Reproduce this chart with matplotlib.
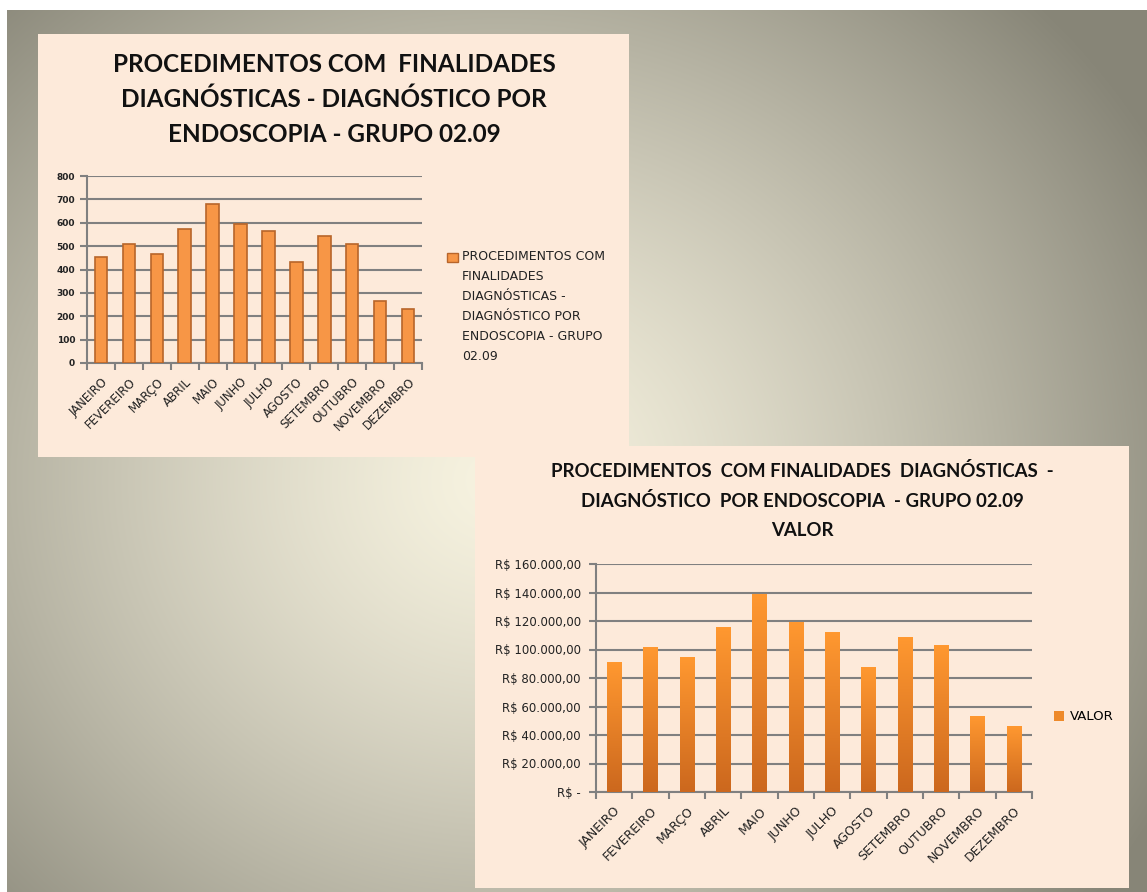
import matplotlib
matplotlib.use("Agg")
import matplotlib.pyplot as plt
import numpy as np
from matplotlib.patches import Rectangle, Patch
from matplotlib.ticker import FuncFormatter

# dados
meses = ["JANEIRO", "FEVEREIRO", "MARÇO", "ABRIL", "MAIO", "JUNHO", "JULHO",
         "AGOSTO", "SETEMBRO", "OUTUBRO", "NOVEMBRO", "DEZEMBRO"]
quantidade = [455, 510, 466, 575, 680, 595, 565, 434, 545, 510, 264, 233]
valor = [91000, 101500, 94500, 115500, 138500, 119000, 112000, 87500,
         108500, 103000, 53000, 46000]

titulo_qtd = ["PROCEDIMENTOS COM  FINALIDADES",
              "DIAGNÓSTICAS - DIAGNÓSTICO POR",
              "ENDOSCOPIA - GRUPO 02.09"]
legenda_qtd = ["PROCEDIMENTOS COM", "FINALIDADES", "DIAGNÓSTICAS -",
               "DIAGNÓSTICO POR", "ENDOSCOPIA - GRUPO", "02.09"]
titulo_valor = ["PROCEDIMENTOS  COM FINALIDADES  DIAGNÓSTICAS  -",
                "DIAGNÓSTICO  POR ENDOSCOPIA  - GRUPO 02.09",
                "VALOR"]

W, H = 1147, 892
PEACH = "#FDEADA"
GRID = "#808080"

def fx(px):
    return px / W

def fy(py):
    return 1 - py / H

fig = plt.figure(figsize=(W / 100, H / 100), dpi=100, facecolor="white")

# fundo com degrade radial
bg = fig.add_axes([fx(7), 0, 1 - fx(7), fy(10)])
bg.set_axis_off()
yy, xx = np.mgrid[10:892, 7:1147]
d = np.sqrt(((xx - 500) / 1.1) ** 2 + (yy - 480) ** 2)
t = np.clip(d / 680, 0, 1) ** 1.3
c0 = np.array([247, 243, 224]) / 255
c1 = np.array([136, 134, 120]) / 255
img = c0 + (c1 - c0) * t[..., None]
bg.imshow(img, extent=(7, 1147, 892, 10), aspect="auto")
bg.set_xlim(7, 1147)
bg.set_ylim(892, 10)
bg.add_patch(Rectangle((38, 34), 591, 423, facecolor=PEACH, edgecolor="none"))
bg.add_patch(Rectangle((475, 446), 654, 442, facecolor=PEACH, edgecolor="none"))

title_font = ["Lato", "DejaVu Sans"]
x = np.arange(len(meses))


def style_axes(ax, ymax, step, tick_size):
    ax.set_facecolor("none")
    ax.set_xlim(-0.5, len(meses) - 0.5)
    ax.set_ylim(0, ymax)
    ax.set_yticks(np.arange(0, ymax + 1, step))
    ax.yaxis.grid(True, color=GRID, linewidth=1.5)
    ax.set_axisbelow(True)
    for s in ["top", "right"]:
        ax.spines[s].set_visible(False)
    for s in ["left", "bottom"]:
        ax.spines[s].set_color(GRID)
        ax.spines[s].set_linewidth(1.5)
    ax.set_xticks(x)
    ax.set_xticklabels(meses, rotation=45, ha="right", rotation_mode="anchor",
                       fontsize=tick_size, color="#222222")
    ax.set_xticks(np.arange(-0.5, len(meses)), minor=True)
    ax.tick_params(axis="x", which="major", length=0, pad=9)
    ax.tick_params(axis="x", which="minor", length=5, width=1.5, color=GRID)
    ax.tick_params(axis="y", length=5, width=1.5, color=GRID, labelcolor="#222222")


# grafico 1 - quantidade
ax1 = fig.add_axes([fx(87), fy(363), fx(422) - fx(87), fy(176) - fy(363)])
ax1.bar(x, quantidade, width=0.45, color="#F79646", edgecolor="#B8652A",
        linewidth=1.2, zorder=3)
style_axes(ax1, 800, 100, 8.5)
ax1.tick_params(axis="y", labelsize=6.5)
for lab in ax1.get_yticklabels():
    lab.set_fontweight("bold")

for i, linha in enumerate(titulo_qtd):
    fig.text(fx(334), fy(64 + 35 * i), linha, ha="center", va="center",
             fontsize=17.5, fontweight="bold", family=title_font, color="#111111")

fig.patches.append(Rectangle((fx(447), fy(262)), fx(11), 9 / H,
                             facecolor="#F79646", edgecolor="#B8652A",
                             linewidth=1.0, transform=fig.transFigure, figure=fig))
ys = [257, 276, 296, 316, 337, 357]
for yv, linha in zip(ys, legenda_qtd):
    fig.text(fx(462), fy(yv), linha, ha="left", va="center", fontsize=9,
             color="#222222")

# grafico 2 - valor
ax2 = fig.add_axes([fx(596), fy(792), fx(1032) - fx(596), fy(564) - fy(792)])
bars = ax2.bar(x, valor, width=0.4, color="#F08A2C", zorder=3)
grad = np.linspace(0, 1, 100)[:, None]
top_c = np.array([255, 152, 48]) / 255
bot_c = np.array([204, 104, 30]) / 255
grad_img = top_c + (bot_c - top_c) * grad[..., None]
for b in bars:
    b.set_alpha(0)
    ax2.imshow(grad_img, extent=(b.get_x(), b.get_x() + b.get_width(), 0, b.get_height()),
               aspect="auto", zorder=3)
style_axes(ax2, 160000, 20000, 9)


def reais(v, pos):
    if v == 0:
        return "R$ -"
    return "R$ " + f"{v:,.2f}".replace(",", "X").replace(".", ",").replace("X", ".")


ax2.yaxis.set_major_formatter(FuncFormatter(reais))
ax2.tick_params(axis="y", labelsize=8.5, pad=6)

for i, linha in enumerate(titulo_valor):
    fig.text(fx(802), fy(471 + 30 * i), linha, ha="center", va="center",
             fontsize=13.4, fontweight="bold", family=title_font, color="#111111")

ax2.legend(handles=[Patch(facecolor="#EE8A2A", edgecolor="none", label="VALOR")],
           loc="center left", bbox_to_anchor=(fx(1042), fy(717)),
           bbox_transform=fig.transFigure, frameon=False, fontsize=9.5,
           handlelength=0.8, handleheight=0.8, handletextpad=0.4)

fig.savefig("out.png", dpi=100)
